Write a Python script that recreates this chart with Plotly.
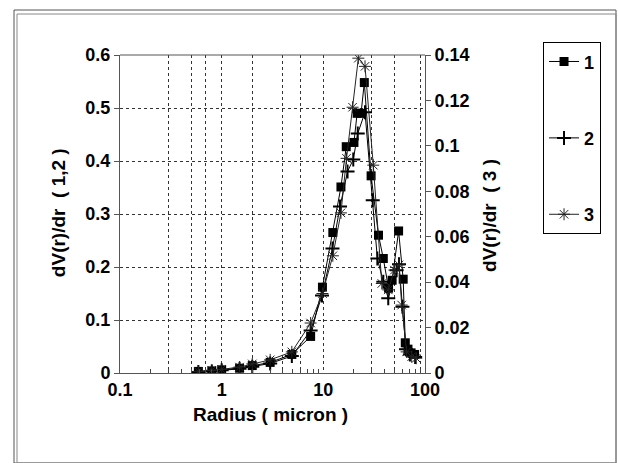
import plotly.graph_objects as go

# ---- data ----
radius_1 = [0.59, 0.80, 1.0, 1.5, 2.0, 3.0, 4.9, 7.5, 9.8, 12.4, 14.9, 16.8, 20.0, 21.5, 23.5,
            25.3, 29.5, 34.9, 38.9, 43.8, 47.5, 55.0, 61.0, 64.0, 68.0, 73.0, 79.0]
dv_1 = [0.003, 0.004, 0.006, 0.009, 0.014, 0.020, 0.035, 0.069, 0.162, 0.265, 0.351, 0.427, 0.435, 0.490, 0.490,
        0.548, 0.372, 0.260, 0.216, 0.160, 0.175, 0.268, 0.177, 0.057, 0.045, 0.038, 0.035]

radius_2 = [0.59, 0.80, 1.0, 1.5, 2.0, 3.0, 4.9, 7.5, 9.7, 12.3, 14.6, 17.3, 19.7, 21.8, 25.7,
            30.6, 34.0, 38.9, 43.5, 52.6, 55.5, 60.0, 65.0, 71.0, 80.0]
dv_2 = [0.002, 0.003, 0.005, 0.008, 0.012, 0.018, 0.032, 0.080, 0.146, 0.235, 0.314, 0.380, 0.403, 0.452, 0.492,
        0.326, 0.216, 0.172, 0.141, 0.194, 0.205, 0.125, 0.045, 0.035, 0.030]

radius_3 = [0.59, 0.80, 1.0, 1.5, 2.0, 3.0, 4.9, 7.5, 9.8, 12.4, 14.9, 16.9, 19.4, 22.1, 25.7,
            31.0, 37.6, 43.5, 50.0, 55.5, 59.0, 66.0, 74.0, 82.0]
dv_3 = [0.0007, 0.0012, 0.0016, 0.0026, 0.0040, 0.0058, 0.0093, 0.0220, 0.0350, 0.0516, 0.0705, 0.0945, 0.1170,
        0.1386, 0.1350, 0.0915, 0.0394, 0.0366, 0.0453, 0.0476, 0.0299, 0.0093, 0.0072, 0.0065]

series_names = ["1", "2", "3"]
x_tick_vals = [0.1, 1, 10, 100]
x_tick_text = ["0.1", "1", "10", "100"]
x_grid_vals = [0.3, 0.5, 0.7, 1, 2, 4, 6, 10, 30, 50, 90]
x_minor_vals = [0.2, 0.3, 0.4, 0.5, 0.6, 0.7, 0.8, 0.9,
                2, 3, 4, 5, 6, 7, 8, 9,
                20, 30, 40, 50, 60, 70, 80, 90]
y_left_ticks = [0, 0.1, 0.2, 0.3, 0.4, 0.5, 0.6]
y_left_text = ["0", "0.1", "0.2", "0.3", "0.4", "0.5", "0.6"]
y_right_ticks = [0, 0.02, 0.04, 0.06, 0.08, 0.1, 0.12, 0.14]
y_right_text = ["0", "0.02", "0.04", "0.06", "0.08", "0.1", "0.12", "0.14"]

TICKFONT = dict(family="Liberation Sans, Arial, sans-serif", size=18, color="black", weight="bold")
TITLEFONT = dict(family="Liberation Sans, Arial, sans-serif", size=19, color="black", weight="bold")

fig = go.Figure()
fig.add_trace(go.Scatter(
    x=radius_1, y=dv_1, name=series_names[0], mode="lines+markers", legendgroup="a",
    line=dict(color="black", width=1),
    marker=dict(symbol="square", size=9, color="black"),
))
fig.add_trace(go.Scatter(
    x=radius_2, y=dv_2, name=series_names[1], mode="lines+markers", legendgroup="b",
    line=dict(color="black", width=1),
    marker=dict(symbol="cross-thin-open", size=10, line=dict(color="black", width=2)),
))
fig.add_trace(go.Scatter(
    x=radius_3, y=dv_3, name=series_names[2], mode="lines+markers", legendgroup="c",
    yaxis="y2",
    line=dict(color="#222222", width=1),
    marker=dict(symbol="asterisk-open", size=10, line=dict(color="black", width=1)),
))
# helper empty trace so the minor-tick axis gets drawn
fig.add_trace(go.Scatter(x=[], y=[], xaxis="x2", showlegend=False, hoverinfo="skip"))

grid_style = dict(showgrid=True, gridcolor="#333333", gridwidth=1, griddash="dot")

fig.update_layout(
    width=618, height=463,
    margin=dict(l=120, r=193, t=55, b=90),
    paper_bgcolor="white", plot_bgcolor="white",
    font=TICKFONT,
    showlegend=True,
    xaxis=dict(
        type="log", range=[-1, 2],
        tickvals=x_tick_vals, ticktext=x_tick_text,
        ticks="", showline=True, linecolor="#555555", linewidth=1,
        showgrid=False, zeroline=False,
        minor=dict(tickvals=x_grid_vals, ticks="", **grid_style),
        tickfont=TICKFONT, mirror=False,
    ),
    xaxis2=dict(
        type="log", range=[-1, 2], overlaying="x", anchor="y", side="bottom",
        tickvals=x_minor_vals, ticks="inside", ticklen=4, tickcolor="#444444",
        showticklabels=False, showgrid=False, showline=False, zeroline=False,
    ),
    yaxis=dict(
        range=[0, 0.6], tickvals=y_left_ticks, ticktext=y_left_text,
        ticks="outside", ticklen=5, tickcolor="#555555",
        showline=True, linecolor="#555555", linewidth=1, zeroline=False,
        tickfont=TICKFONT, **grid_style,
    ),
    yaxis2=dict(
        range=[0, 0.14], tickvals=y_right_ticks, ticktext=y_right_text,
        overlaying="y", side="right", anchor="x",
        ticks="outside", ticklen=5, tickcolor="#555555",
        showline=True, linecolor="#555555", linewidth=1, zeroline=False,
        showgrid=False, tickfont=TICKFONT,
    ),
    legend=dict(
        x=1.387, y=1.04, xanchor="left", yanchor="top",
        bordercolor="black", borderwidth=1, bgcolor="white",
        font=TICKFONT, traceorder="grouped", tracegroupgap=50,
        itemwidth=30,
    ),
    annotations=[
        dict(text="Radius ( micron )", xref="paper", yref="paper", x=0.492, y=-0.132,
             xanchor="center", yanchor="middle", showarrow=False, font=TITLEFONT),
        dict(text="dV(r)/dr  ( 1,2 )", xref="paper", yref="paper", x=-0.203, y=0.503,
             xanchor="center", yanchor="middle", textangle=-90, showarrow=False, font=TITLEFONT),
        dict(text="dV(r)/dr  ( 3 )", xref="paper", yref="paper", x=1.213, y=0.497,
             xanchor="center", yanchor="middle", textangle=-90, showarrow=False, font=TITLEFONT),
    ],
    shapes=[
        # top frame line of the plot area
        dict(type="line", xref="paper", yref="paper", x0=0, x1=1, y0=1, y1=1,
             line=dict(color="#555555", width=1)),
        # outer chart border (double line at left/top)
        dict(type="rect", xref="paper", yref="paper",
             x0=(14 - 120) / 305, x1=(616 - 120) / 305, y0=(373 - 463) / 318, y1=(373 - 10) / 318,
             line=dict(color="#555555", width=1), layer="below"),
        dict(type="rect", xref="paper", yref="paper",
             x0=(17 - 120) / 305, x1=(616 - 120) / 305, y0=(373 - 463) / 318, y1=(373 - 14) / 318,
             line=dict(color="#888888", width=1), layer="below"),
    ],
)

fig.write_html("out.html", config={"displayModeBar": False},
               post_script="document.body.style.margin='0px';")
